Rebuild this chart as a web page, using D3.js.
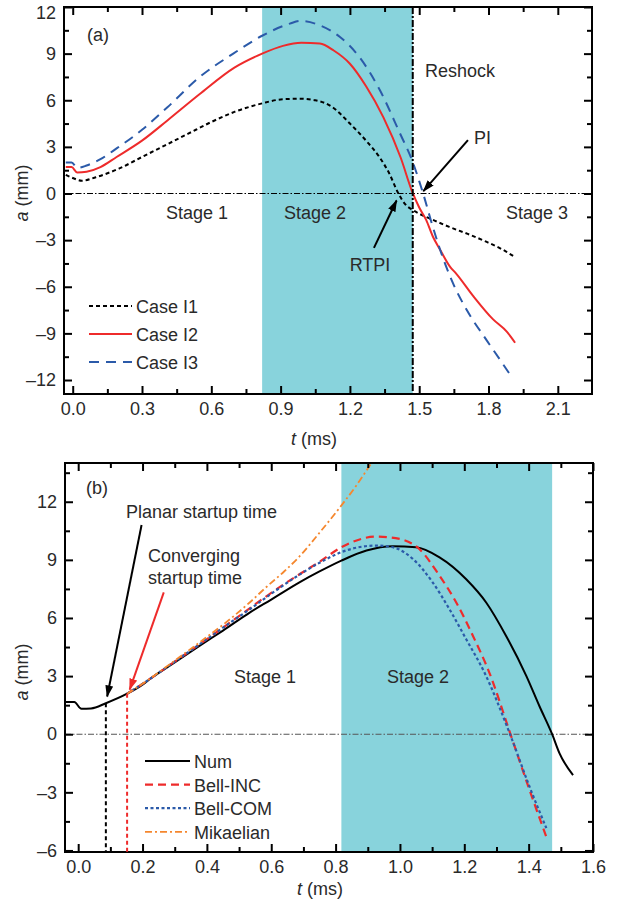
<!DOCTYPE html>
<html>
<head>
<meta charset="utf-8">
<script src="https://cdn.jsdelivr.net/npm/d3@7/dist/d3.min.js"></script>
<style>
  html, body { margin: 0; padding: 0; background: #fff; }
  svg { display: block; }
  text { font-family: "Liberation Sans", Arial, Helvetica, sans-serif; fill: #2a2a2a; }
</style>
</head>
<body>
<svg id="chart" width="622" height="903"></svg>
<script>
// ---------- Panel (a): perturbation amplitude, three cases ----------
const caseI1T = [-0.03, 0.0, 0.04, 0.1, 0.2, 0.3, 0.4, 0.5, 0.6, 0.7, 0.82, 0.9, 0.98, 1.05, 1.12, 1.2, 1.27, 1.33, 1.37, 1.41, 1.44, 1.47, 1.5, 1.56, 1.63, 1.71, 1.79, 1.86, 1.915];
const caseI1A = [1.2, 1.0, 0.82, 1.05, 1.6, 2.35, 3.1, 3.85, 4.6, 5.25, 5.8, 6.05, 6.1, 6.0, 5.6, 4.5, 3.4, 2.3, 1.3, 0.0, -0.7, -1.05, -1.3, -1.7, -2.15, -2.6, -3.1, -3.6, -4.1];

const caseI2T = [-0.03, -0.005, 0.02, 0.06, 0.12, 0.19, 0.3, 0.41, 0.55, 0.7, 0.82, 0.91, 0.99, 1.07, 1.13, 1.2, 1.27, 1.345, 1.42, 1.47, 1.5, 1.53, 1.56, 1.59, 1.633, 1.66, 1.734, 1.82, 1.88, 1.915];
const caseI2A = [1.7, 1.7, 1.35, 1.4, 1.7, 2.35, 3.4, 4.7, 6.4, 8.1, 9.0, 9.5, 9.7, 9.65, 9.2, 8.35, 6.9, 4.9, 2.3, 0.1, -0.9, -1.7, -2.8, -3.6, -4.7, -5.15, -6.6, -8.1, -8.9, -9.6];

const caseI3T = [-0.03, -0.005, 0.02, 0.06, 0.118, 0.19, 0.3, 0.41, 0.55, 0.695, 0.82, 0.94, 0.985, 1.07, 1.157, 1.24, 1.33, 1.417, 1.47, 1.5, 1.517, 1.55, 1.59, 1.647, 1.706, 1.79, 1.85, 1.9];
const caseI3A = [2.0, 2.0, 1.65, 1.8, 2.19, 2.9, 4.1, 5.55, 7.5, 9.0, 10.15, 10.93, 11.1, 10.82, 10.07, 8.8, 6.64, 3.86, 2.1, 0.8, 0.0, -1.7, -3.6, -5.8, -7.5, -9.4, -10.7, -11.8];

const topXTicks = [0.0, 0.3, 0.6, 0.9, 1.2, 1.5, 1.8, 2.1];
const topXMinor = [0.15, 0.45, 0.75, 1.05, 1.35, 1.65, 1.95];
const topYTicks = [-12, -9, -6, -3, 0, 3, 6, 9, 12];
const topYMinor = [-10.5, -7.5, -4.5, -1.5, 1.5, 4.5, 7.5, 10.5];
const topStage2 = [0.82, 1.472];   // shaded interval, ms
const reshockTime = 1.472;

// ---------- Panel (b): numerical result vs. models ----------
const numT = [-0.04, -0.012, 0.01, 0.04, 0.086, 0.152, 0.2, 0.223, 0.3, 0.378, 0.45, 0.533, 0.6, 0.689, 0.75, 0.818, 0.896, 0.978, 1.05, 1.123, 1.206, 1.268, 1.33, 1.393, 1.434, 1.473, 1.496, 1.538];
const numA = [1.66, 1.66, 1.31, 1.33, 1.6, 2.09, 2.56, 2.85, 3.7, 4.57, 5.35, 6.28, 6.95, 7.85, 8.4, 8.96, 9.48, 9.7, 9.65, 9.13, 8.0, 6.8, 5.07, 3.0, 1.43, 0.0, -0.99, -2.11];

const bellIncT = [0.152, 0.2, 0.3, 0.378, 0.45, 0.533, 0.6, 0.689, 0.75, 0.818, 0.926, 0.999, 1.06, 1.123, 1.175, 1.227, 1.278, 1.346, 1.403, 1.455];
const bellIncA = [2.09, 2.6, 3.75, 4.65, 5.5, 6.5, 7.3, 8.27, 8.9, 9.65, 10.2, 10.08, 9.56, 8.18, 6.8, 5.07, 3.17, -0.12, -2.89, -5.3];

const bellComT = [0.152, 0.2, 0.3, 0.378, 0.45, 0.533, 0.6, 0.689, 0.75, 0.818, 0.926, 0.978, 1.04, 1.102, 1.154, 1.206, 1.263, 1.341, 1.403, 1.455];
const bellComA = [2.09, 2.6, 3.75, 4.65, 5.5, 6.45, 7.25, 8.25, 8.85, 9.4, 9.74, 9.65, 9.05, 7.83, 6.45, 4.9, 3.17, 0.05, -2.72, -4.85];

const mikT = [0.152, 0.2, 0.3, 0.378, 0.45, 0.533, 0.585, 0.64, 0.689, 0.75, 0.813, 0.865, 0.911, 0.93];
const mikA = [2.09, 2.6, 3.8, 4.75, 5.65, 6.8, 7.6, 8.4, 9.2, 10.4, 11.7, 12.85, 13.97, 14.4];

const botXTicks = [0.0, 0.2, 0.4, 0.6, 0.8, 1.0, 1.2, 1.4, 1.6];
const botXMinor = [0.1, 0.3, 0.5, 0.7, 0.9, 1.1, 1.3, 1.5];
const botYTicks = [-6, -3, 0, 3, 6, 9, 12];
const botYMinor = [-4.5, -1.5, 1.5, 4.5, 7.5, 10.5, 13.5];
const botStage2 = [0.818, 1.473];
const planarStartup = 0.086;
const convergingStartup = 0.152;

// ---------- styling ----------
const SHADE = "#88d3dc";
const RED = "#ee2b2b";
const BLUE = "#2b5aa9";
const ORANGE = "#f5872e";
const FONT = 18;

const svg = d3.select("#chart");
const defs = svg.append("defs");

function arrowMarker(id, color) {
  defs.append("marker")
    .attr("id", id)
    .attr("viewBox", "0 0 12 8")
    .attr("refX", 11).attr("refY", 4)
    .attr("markerWidth", 12).attr("markerHeight", 8)
    .attr("markerUnits", "userSpaceOnUse")
    .attr("orient", "auto")
    .append("path").attr("d", "M0,0 L12,4 L0,8 Z").attr("fill", color);
}
arrowMarker("arrowBlack", "#000");
arrowMarker("arrowRed", RED);

const zip = (ts, as) => ts.map((t, i) => ({ t, a: as[i] }));

function panel(cfg) {
  const { id, box, xDom, yDom } = cfg;
  const x = d3.scaleLinear().domain(xDom).range([box.x0, box.x1]);
  const y = d3.scaleLinear().domain(yDom).range([box.y1, box.y0]);
  const g = svg.append("g");

  defs.append("clipPath").attr("id", "clip-" + id)
    .append("rect").attr("x", box.x0).attr("y", box.y0)
    .attr("width", box.x1 - box.x0).attr("height", box.y1 - box.y0);

  // stage 2 shading
  g.append("rect")
    .attr("x", x(cfg.stage2[0])).attr("y", box.y0)
    .attr("width", x(cfg.stage2[1]) - x(cfg.stage2[0]))
    .attr("height", box.y1 - box.y0)
    .attr("fill", SHADE);

  // zero reference line
  g.append("line")
    .attr("x1", box.x0).attr("x2", box.x1)
    .attr("y1", y(0)).attr("y2", y(0))
    .attr("stroke", cfg.zeroColor).attr("stroke-width", 1.1)
    .attr("stroke-dasharray", "6,2,1.5,2");

  const plot = g.append("g").attr("clip-path", `url(#clip-${id})`);
  const line = d3.line().x(d => x(d.t)).y(d => y(d.a)).curve(d3.curveMonotoneX);
  cfg.series.forEach(s => {
    plot.append("path")
      .datum(zip(s.t, s.a))
      .attr("d", line)
      .attr("fill", "none")
      .attr("stroke", s.color)
      .attr("stroke-width", s.width)
      .attr("stroke-dasharray", s.dash || null)
      .attr("stroke-linejoin", "round");
  });

  // axes: inward ticks on all four sides
  const fmtX = d => d.toFixed(1);
  const fmtY = d => (d < 0 ? "\u2013" : "") + Math.abs(d);
  const axes = g.append("g");
  const addAxis = (axisGen, tx, ty, vals, size, fmt, pad) => {
    const a = axes.append("g").attr("transform", `translate(${tx},${ty})`)
      .call(axisGen.tickValues(vals).tickSizeInner(-size).tickSizeOuter(0)
        .tickPadding(pad).tickFormat(fmt || (() => "")));
    a.select(".domain").remove();
    a.selectAll(".tick line").attr("stroke", "#000").attr("stroke-width", 2);
    a.selectAll(".tick text").style("font-size", FONT + "px")
      .style("font-family", "'Liberation Sans', Arial, sans-serif").attr("fill", "#2a2a2a");
    return a;
  };
  addAxis(d3.axisBottom(x), 0, box.y1, cfg.xTicks, 8, fmtX, 8);
  addAxis(d3.axisBottom(x), 0, box.y1, cfg.xMinor, 5, null, 8);
  addAxis(d3.axisTop(x), 0, box.y0, cfg.xTicks, 8, null, 8);
  addAxis(d3.axisTop(x), 0, box.y0, cfg.xMinor, 5, null, 8);
  const yAx = addAxis(d3.axisLeft(y), box.x0, 0, cfg.yTicks, 8, fmtY, 8);
  // keep a label sitting on the top edge inside the canvas
  yAx.selectAll(".tick text").filter(function () {
    const tr = this.parentNode.getAttribute("transform");
    const ty = +tr.match(/,\s*([-\d.]+)\)/)[1];
    return ty < 12;
  }).attr("dy", "0.62em");
  addAxis(d3.axisLeft(y), box.x0, 0, cfg.yMinor, 5, null, 8);
  addAxis(d3.axisRight(y), box.x1, 0, cfg.yTicks, 8, null, 8);
  addAxis(d3.axisRight(y), box.x1, 0, cfg.yMinor, 5, null, 8);

  g.append("rect")
    .attr("x", box.x0).attr("y", box.y0)
    .attr("width", box.x1 - box.x0).attr("height", box.y1 - box.y0)
    .attr("fill", "none").attr("stroke", "#000").attr("stroke-width", 2);

  // axis titles
  const yt = g.append("text")
    .attr("transform", `translate(${cfg.yTitle[0]},${cfg.yTitle[1]}) rotate(-90)`)
    .attr("text-anchor", "middle").style("font-size", FONT + "px");
  yt.append("tspan").style("font-style", "italic").text("a");
  yt.append("tspan").text(" (mm)");
  const xt = g.append("text")
    .attr("x", cfg.xTitle[0]).attr("y", cfg.xTitle[1])
    .attr("text-anchor", "middle").style("font-size", FONT + "px");
  xt.append("tspan").style("font-style", "italic").text("t");
  xt.append("tspan").text(" (ms)");

  // legend
  cfg.series.forEach((s, i) => {
    const ly = cfg.legend.y + i * cfg.legend.dy;
    g.append("line")
      .attr("x1", cfg.legend.x).attr("x2", cfg.legend.x + cfg.legend.len)
      .attr("y1", ly).attr("y2", ly)
      .attr("stroke", s.color).attr("stroke-width", s.width)
      .attr("stroke-dasharray", s.dash || null);
    g.append("text")
      .attr("x", cfg.legend.x + cfg.legend.len + 4).attr("y", ly + 7)
      .style("font-size", FONT + "px").text(s.name);
  });

  return { g, x, y };
}

function label(g, text, px, py, anchor) {
  g.append("text").attr("x", px).attr("y", py)
    .attr("text-anchor", anchor || "start")
    .style("font-size", FONT + "px").text(text);
}

function arrow(g, x1, y1, x2, y2, color, marker) {
  g.append("line")
    .attr("x1", x1).attr("y1", y1).attr("x2", x2).attr("y2", y2)
    .attr("stroke", color).attr("stroke-width", 2)
    .attr("marker-end", `url(#${marker})`);
}

// ----- panel (a) -----
const A = panel({
  id: "a",
  box: { x0: 64, x1: 592, y0: 7, y1: 394 },
  xDom: [-0.0377, 2.248], yDom: [-12.9, 12],
  stage2: topStage2, zeroColor: "#000",
  xTicks: topXTicks, xMinor: topXMinor, yTicks: topYTicks, yMinor: topYMinor,
  series: [
    { name: "Case I1", t: caseI1T, a: caseI1A, color: "#000", width: 2, dash: "4,3" },
    { name: "Case I2", t: caseI2T, a: caseI2A, color: RED, width: 2 },
    { name: "Case I3", t: caseI3T, a: caseI3A, color: BLUE, width: 2, dash: "10,7" }
  ],
  legend: { x: 89, len: 43, y: 306, dy: 28 },
  yTitle: [28, 193], xTitle: [314, 445]
});
// reshock line
A.g.append("line")
  .attr("x1", A.x(reshockTime)).attr("x2", A.x(reshockTime))
  .attr("y1", 7).attr("y2", 394)
  .attr("stroke", "#000").attr("stroke-width", 2)
  .attr("stroke-dasharray", "7,2,2,2");
label(A.g, "(a)", 87, 41);
label(A.g, "Reshock", 425, 77);
label(A.g, "PI", 474, 144);
label(A.g, "Stage 1", 197, 219, "middle");
label(A.g, "Stage 2", 315, 219, "middle");
label(A.g, "Stage 3", 537, 219, "middle");
label(A.g, "RTPI", 370, 271, "middle");
arrow(A.g, A.x(1.711), A.y(3.43), A.x(1.518), A.y(0.15), "#000", "arrowBlack");
arrow(A.g, A.x(1.304), A.y(-3.5), A.x(1.402), A.y(-0.45), "#000", "arrowBlack");

// ----- panel (b) -----
const B = panel({
  id: "b",
  box: { x0: 65, x1: 593, y0: 463, y1: 852 },
  xDom: [-0.041, 1.6], yDom: [-6.08, 14],
  stage2: botStage2, zeroColor: "#555",
  xTicks: botXTicks, xMinor: botXMinor, yTicks: botYTicks, yMinor: botYMinor,
  series: [
    { name: "Num", t: numT, a: numA, color: "#000", width: 2 },
    { name: "Bell-INC", t: bellIncT, a: bellIncA, color: RED, width: 2.2, dash: "8,5" },
    { name: "Bell-COM", t: bellComT, a: bellComA, color: BLUE, width: 2.2, dash: "3,2.5" },
    { name: "Mikaelian", t: mikT, a: mikA, color: ORANGE, width: 1.8, dash: "7,3,2,3" }
  ],
  legend: { x: 145, len: 45, y: 761, dy: 23.6 },
  yTitle: [28, 672], xTitle: [320, 895]
});
// startup-time markers, dropped from the Num curve to the bottom axis
const numAt = t => d3.scaleLinear().domain(numT).range(numA)(t);
[[planarStartup, "#000"], [convergingStartup, RED]].forEach(([t, c]) => {
  B.g.append("line")
    .attr("x1", B.x(t)).attr("x2", B.x(t))
    .attr("y1", B.y(numAt(t))).attr("y2", 852)
    .attr("stroke", c).attr("stroke-width", 2).attr("stroke-dasharray", "4,3");
});
label(B.g, "(b)", 86, 494);
label(B.g, "Planar startup time", 126, 518);
label(B.g, "Converging", 148, 562);
label(B.g, "startup time", 148, 584);
label(B.g, "Stage 1", 265, 683, "middle");
label(B.g, "Stage 2", 418, 683, "middle");
arrow(B.g, B.x(0.197), B.y(10.8), B.x(0.09), B.y(1.95), "#000", "arrowBlack");
arrow(B.g, B.x(0.266), B.y(7.32), B.x(0.16), B.y(2.3), RED, "arrowRed");
</script>
</body>
</html>
